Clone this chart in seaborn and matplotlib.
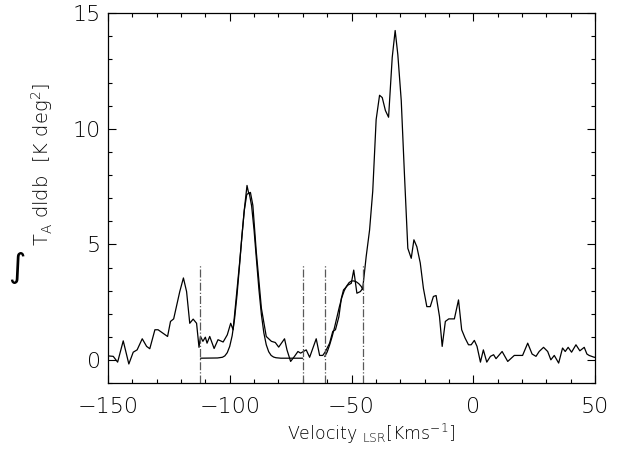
import matplotlib
matplotlib.use('Agg')
import matplotlib.pyplot as plt
import seaborn as sns
import pandas as pd
from matplotlib.ticker import MultipleLocator

velocity = [-150.0, -147.8, -146.0, -143.7, -141.4, -139.6, -138.0, -135.9, -134.1, -132.8,
            -130.7, -129.4, -125.5, -124.3, -123.0, -120.5, -119.0, -117.7, -116.4, -115.0,
            -113.6, -112.6, -112.0, -111.0, -110.0, -109.3, -108.2, -106.4, -104.8, -102.7,
            -101.0, -99.6, -98.6, -95.9, -94.1, -92.9, -92.2, -91.5, -90.5, -89.1,
            -87.0, -85.0, -82.9, -81.3, -79.9, -77.5, -76.5, -75.0, -73.4, -72.0,
            -70.9, -68.6, -67.2, -64.5, -63.1, -61.8, -60.7, -59.0, -57.7, -56.6,
            -55.2, -54.2, -53.3, -51.5, -50.1, -49.1, -47.8, -46.4, -45.4, -44.0,
            -42.6, -41.3, -39.9, -38.5, -37.4, -36.1, -34.8, -33.3, -32.1, -31.0,
            -29.6, -28.3, -26.9, -25.5, -24.4, -23.2, -21.8, -20.5, -19.1, -17.7,
            -16.4, -15.3, -13.9, -12.8, -11.5, -10.1, -7.8, -6.1, -4.8, -3.4,
            -2.0, -0.9, 0.4, 1.5, 2.9, 4.1, 5.5, 7.0, 8.3, 9.3,
            11.8, 14.1, 16.8, 20.2, 22.3, 24.1, 25.7, 27.0, 28.8, 30.5,
            31.8, 33.2, 35.0, 36.6, 37.7, 38.9, 40.3, 42.1, 43.7, 45.5,
            46.6, 47.5, 49.6, 50.0]
intensity = [0.18, 0.16, -0.09, 0.83, -0.17, 0.34, 0.44, 0.92, 0.59, 0.49,
             1.31, 1.31, 1.02, 1.67, 1.78, 2.96, 3.55, 2.96, 1.59, 1.77,
             1.59, 0.55, 1.02, 0.81, 0.99, 0.73, 1.02, 0.50, 0.88, 0.78,
             1.09, 1.59, 1.31, 4.25, 6.41, 7.55, 7.20, 7.25, 6.69, 4.69,
             2.24, 1.02, 0.81, 0.76, 0.56, 0.92, 0.44, -0.06, 0.16, 0.37,
             0.30, 0.44, 0.12, 0.92, 0.20, 0.20, 0.37, 0.73, 1.24, 1.31,
             1.87, 2.66, 3.03, 3.24, 3.32, 3.89, 2.89, 2.96, 3.10, 4.47,
             5.62, 7.30, 10.40, 11.45, 11.35, 10.79, 10.50, 13.09, 14.25, 13.20,
             11.22, 8.06, 4.83, 4.40, 5.20, 4.90, 4.20, 3.10, 2.31, 2.31,
             2.75, 2.79, 1.88, 0.59, 1.67, 1.78, 1.78, 2.60, 1.31, 0.95,
             0.66, 0.66, 0.85, 0.59, -0.09, 0.44, -0.09, 0.16, 0.23, 0.06,
             0.37, -0.06, 0.20, 0.20, 0.73, 0.26, 0.16, 0.37, 0.55, 0.37,
             0.01, 0.20, -0.13, 0.52, 0.37, 0.55, 0.34, 0.66, 0.40, 0.55,
             0.26, 0.20, 0.12, 0.12]

# fitted component between the first two markers
fit1_velocity = [-112, -105, -103, -102, -101, -100, -99, -98, -97, -96, -95, -94, -93, -92,
                 -91, -90, -89, -88, -87, -86, -85, -84, -83, -82, -81, -79, -70]
fit1_intensity = [0.08, 0.09, 0.12, 0.18, 0.32, 0.59, 1.05, 1.79, 2.81, 4.05, 5.36, 6.48, 7.16, 7.23,
                  6.66, 5.61, 4.31, 3.04, 1.97, 1.18, 0.66, 0.36, 0.20, 0.13, 0.10, 0.08, 0.08]

# fitted component between the last two markers
fit2_velocity = [-61, -60, -59, -58, -57, -56, -55, -54, -53, -52, -51, -50, -49, -48, -47, -46, -45.4]
fit2_intensity = [0.15, 0.35, 0.65, 1.0, 1.4, 1.85, 2.3, 2.7, 3.0, 3.2, 3.35, 3.42, 3.42, 3.38, 3.3, 3.18, 3.05]

# integration window markers
window_edges = [-112.3, -69.8, -60.8, -45.3]
marker_top = 4.15

spec = pd.DataFrame({'v': velocity, 'T': intensity})
fit1 = pd.DataFrame({'v': fit1_velocity, 'T': fit1_intensity})
fit2 = pd.DataFrame({'v': fit2_velocity, 'T': fit2_intensity})

sns.set_style('ticks')
plt.rcParams['font.family'] = ['DejaVu Sans']
plt.rcParams['font.weight'] = 'light'
plt.rcParams['axes.labelweight'] = 'light'
plt.rcParams['mathtext.fontset'] = 'custom'
plt.rcParams['mathtext.rm'] = 'DejaVu Sans:light'
plt.rcParams['mathtext.it'] = 'DejaVu Sans:italic:light'

fig = plt.figure(figsize=(6.2, 4.54), dpi=100)
ax = fig.add_axes([0.174, 0.156, 0.786, 0.815])

sns.lineplot(data=spec, x='v', y='T', sort=False, estimator=None, color='black', lw=0.9, ax=ax)
sns.lineplot(data=fit1, x='v', y='T', sort=False, estimator=None, color='black', lw=0.9, ax=ax)
sns.lineplot(data=fit2, x='v', y='T', sort=False, estimator=None, color='black', lw=0.9, ax=ax)
ax.vlines(window_edges, -1, marker_top, colors='0.35', linestyles='-.', lw=0.9)

ax.set_xlim(-150, 50)
ax.set_ylim(-1, 15)
ax.xaxis.set_major_locator(MultipleLocator(50))
ax.xaxis.set_minor_locator(MultipleLocator(10))
ax.yaxis.set_major_locator(MultipleLocator(5))
ax.yaxis.set_minor_locator(MultipleLocator(1))
ax.tick_params(which='both', direction='in', top=True, right=True, width=0.8,
               color='black', labelcolor='black')
ax.tick_params(which='major', length=5.5, labelsize=16)
ax.tick_params(axis='x', which='major', pad=10)
ax.tick_params(axis='y', which='major', pad=5)
ax.tick_params(which='minor', length=2.6)
for s in ax.spines.values():
    s.set_linewidth(0.9)
    s.set_color('black')

ax.set_xlabel(r'Velocity $_{\mathrm{LSR}}$[Kms$^{-1}$]', fontsize=12.5, color='black',
              fontweight='light')
ax.xaxis.set_label_coords(0.54, -0.105)
ax.set_ylabel(r'T$_{\mathrm{A}}$ dldb  [K deg$^{2}$]', fontsize=14, color='black',
              fontweight='light')
ax.yaxis.set_label_coords(-0.109, 0.59)
fig.text(0.027, 0.41, '\u222b', fontsize=24, family=['DejaVu Sans'], fontweight='normal',
         ha='center', va='center', color='black')

fig.savefig('out.png', dpi=100)
